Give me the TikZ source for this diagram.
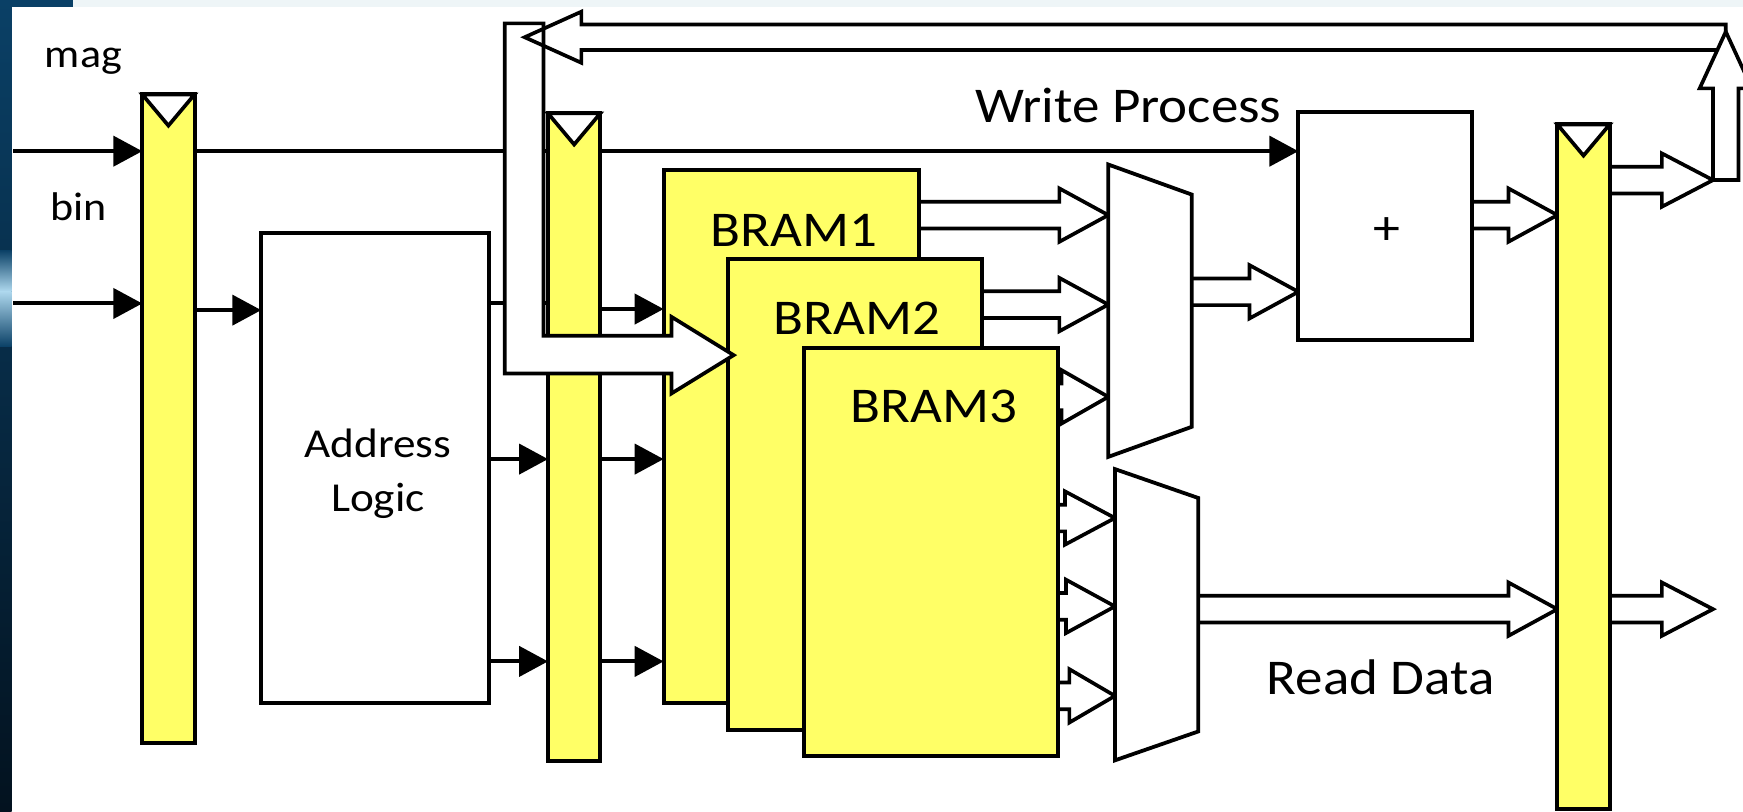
\documentclass[tikz,border=0pt]{standalone}
\usepackage{fontspec}
\setmainfont{Carlito}[FakeStretch=1.1]
\usetikzlibrary{arrows.meta,calc}
\pgfdeclarelayer{back}
\pgfdeclarelayer{bg}
\pgfdeclarelayer{fg}
\pgfsetlayers{back,bg,main,fg}
\definecolor{regy}{HTML}{FFFF66}
\definecolor{navy}{HTML}{0A4066}
\definecolor{navydk}{HTML}{03121F}
\definecolor{streak}{HTML}{AED8EE}
\definecolor{topband}{HTML}{EEF5F7}
% hollow block arrow: [head length] {start} {tip}
\newcommand\harrow[3][44]{%
  \filldraw[hollow] let \p1=(#2), \p2=(#3) in
    (\x1,\y2+12pt) -- (\x2-#1pt,\y2+12pt) -- (\x2-#1pt,\y2+24pt) -- (\x2,\y2)
    -- (\x2-#1pt,\y2-24pt) -- (\x2-#1pt,\y2-12pt) -- (\x1,\y2-12pt);}
\begin{document}
\begin{tikzpicture}[x=1pt,y=-1pt,
  lw/.style={line width=3.6pt},
  reg/.style={draw,fill=regy,line width=3.6pt,minimum width=47pt,inner sep=0pt,outer sep=0pt,anchor=north west},
  blk/.style={draw,fill=white,line width=3.6pt,inner sep=0pt,outer sep=0pt,anchor=north west},
  bram/.style={draw,fill=regy,line width=3.6pt,inner sep=0pt,outer sep=0pt,anchor=north west},
  ghost/.style={inner sep=0pt,outer sep=0pt,anchor=north west},
  sig/.style={line width=3.6pt,-{Triangle[length=26pt,width=27pt]}},
  hollow/.style={draw,fill=white,line width=3.3pt,miter limit=6},
  clk/.style={draw,fill=white,line width=3.3pt},
  lbl/.style={inner sep=0pt,anchor=base},
  fmag/.style={font=\fontsize{36}{40}\selectfont},
  fmid/.style={font=\fontsize{37}{44}\selectfont},
  fbig/.style={font=\fontsize{45}{50}\selectfont}]
\useasboundingbox (0,0) rectangle (1568,730);
\clip (0,0) rectangle (1568,730);
% ---------- background (screenshot frame)
\begin{pgfonlayer}{back}
\fill[white] (0,0) rectangle (1568,730);
\fill[topband] (0,0) rectangle (1568,6);
\fill[navy] (0,0) rectangle (66,6);
\shade[top color=navy,bottom color=navydk] (0,0) rectangle (10.5,730);
\shade[top color=navy,bottom color=streak] (0,225) rectangle (10.5,262);
\shade[top color=streak,bottom color=navy] (0,262) rectangle (10.5,312);
\end{pgfonlayer}
% ---------- blocks
\node[reg,minimum height=583pt] (r1) at (128,85) {};
\node[reg,minimum height=583pt] (r2) at (493,102) {};
\node[reg,minimum height=616pt] (r3) at (1401,112) {};
\node[blk,minimum width=205pt,minimum height=422pt] (al) at (235,210) {};
\node[bram,minimum width=230pt,minimum height=479pt] (b1) at (597,153) {};
\node[bram,minimum width=228pt,minimum height=424pt] (b2) at (655,233) {};
\node[bram,minimum width=229pt,minimum height=367pt] (b3) at (723,313) {};
\node[ghost,minimum width=75pt,minimum height=263pt] (mux1) at (997,148) {};
\node[ghost,minimum width=75pt,minimum height=262pt] (mux2) at (1003,422) {};
\node[blk,minimum width=156pt,minimum height=205pt] (add) at (1168,101) {};
% clock marks
\foreach \r in {r1,r2,r3}
  \filldraw[clk] (\r.north west) -- ($(\r.north)+(0,28)$) -- (\r.north east) -- cycle;
% multiplexers
\filldraw[hollow,line width=3.4pt] (mux1.north west) -- ($(mux1.north east)+(0,27)$)
  -- ($(mux1.south east)+(0,-27)$) -- (mux1.south west) -- cycle;
\filldraw[hollow,line width=3.4pt] (mux2.north west) -- ($(mux2.north east)+(0,26)$)
  -- ($(mux2.south east)+(0,-26)$) -- (mux2.south west) -- cycle;
% named points
\coordinate (magin) at (12,136);
\coordinate (binin) at (12,273);
\coordinate (upbot) at (1541,162);
\coordinate (rdout) at (1541,548);
\coordinate (uptip) at (1552.5,28.5);
\coordinate (m1a) at ($(mux1.north west)+(0,45.5)$);
\coordinate (m1b) at ($(mux1.north west)+(0,126)$);
\coordinate (m1c) at ($(mux1.north west)+(0,209)$);
\coordinate (m2a) at ($(mux2.north west)+(0,44)$);
\coordinate (m2b) at ($(mux2.north west)+(0,123.5)$);
\coordinate (m2c) at ($(mux2.north west)+(0,204)$);
% ---------- connectors (behind blocks)
\begin{pgfonlayer}{bg}
\draw[sig] (magin) -- (magin -| r1.west);
\draw[sig] (binin) -- (binin -| r1.west);
\draw[sig] (r1.east |- 0,279) -- (al.west |- 0,279);
\draw[sig] (r1.east |- magin) -- (add.west |- magin);
\draw[lw] (al.east |- 0,273) -- (r2.west |- 0,273);
\draw[sig] (r2.east |- 0,278) -- (b1.west |- 0,278);
\foreach \yy in {413,595}{
  \draw[sig] (al.east |- 0,\yy) -- (r2.west |- 0,\yy);
  \draw[sig] (r2.east |- 0,\yy) -- (b1.west |- 0,\yy);}
\harrow{b1.east |- m1a}{m1a}
\harrow{b2.east |- m1b}{m1b}
\harrow[42]{b3.east |- m1c}{m1c}
\harrow[45]{b3.east |- m2a}{m2a}
\harrow[44]{b3.east |- m2b}{m2b}
\harrow[41]{b3.east |- m2c}{m2c}
\harrow{mux1.east |- 0,262.5}{add.west |- 0,262.5}
\harrow{add.east |- 0,193.5}{r3.west |- 0,193.5}
\harrow{mux2.east |- 0,548}{r3.west |- 0,548}
\harrow[46]{r3.east |- upbot}{upbot}
\harrow[46]{r3.east |- rdout}{rdout}
\end{pgfonlayer}
% ---------- feedback path (on top)
\begin{pgfonlayer}{fg}
\filldraw[hollow] (454,21) -- (489,21) -- (489,302) -- (604,302) -- (604,285)
  -- (660,319.5) -- (604,354) -- (604,336) -- (454,336) -- cycle;
\draw[line width=3.3pt] (uptip) -- ++(0,-6.5) -- (523,22) -- (523,10.5) -- (472,33.5)
  -- (523,56.5) -- (523,45) -- (1550,45);
\filldraw[hollow] (upbot) -- ++(0,-82.5) -- ++(-12,0) -- (uptip) -- ++(23.5,51)
  -- ++(-12,0) -- ++(0,82.5) -- cycle;
% ---------- labels
\node[lbl,fmag] (tmag) at (75,61) {mag};
\node[lbl,fmag] (tbin) at (71,198) {bin};
\node[lbl,fmid] (tal1) at (340,412) {Address};
\node[lbl,fmid] (tal2) at (340,460.5) {Logic};
\node[lbl,fbig] (tb1) at (714,222) {BRAM1};
\node[lbl,fbig] (tb2) at (771,301) {BRAM2};
\node[lbl,fbig] (tb3) at (840,380.5) {BRAM3};
\node[lbl,fbig] (twp) at (1015,110) {Write Process};
\node[lbl,fbig] (trd) at (1242,625) {Read Data};
\node[inner sep=0pt,font=\fontsize{44}{48}\selectfont] (tplus) at (1248,208) {+};
\end{pgfonlayer}
\end{tikzpicture}
\end{document}
